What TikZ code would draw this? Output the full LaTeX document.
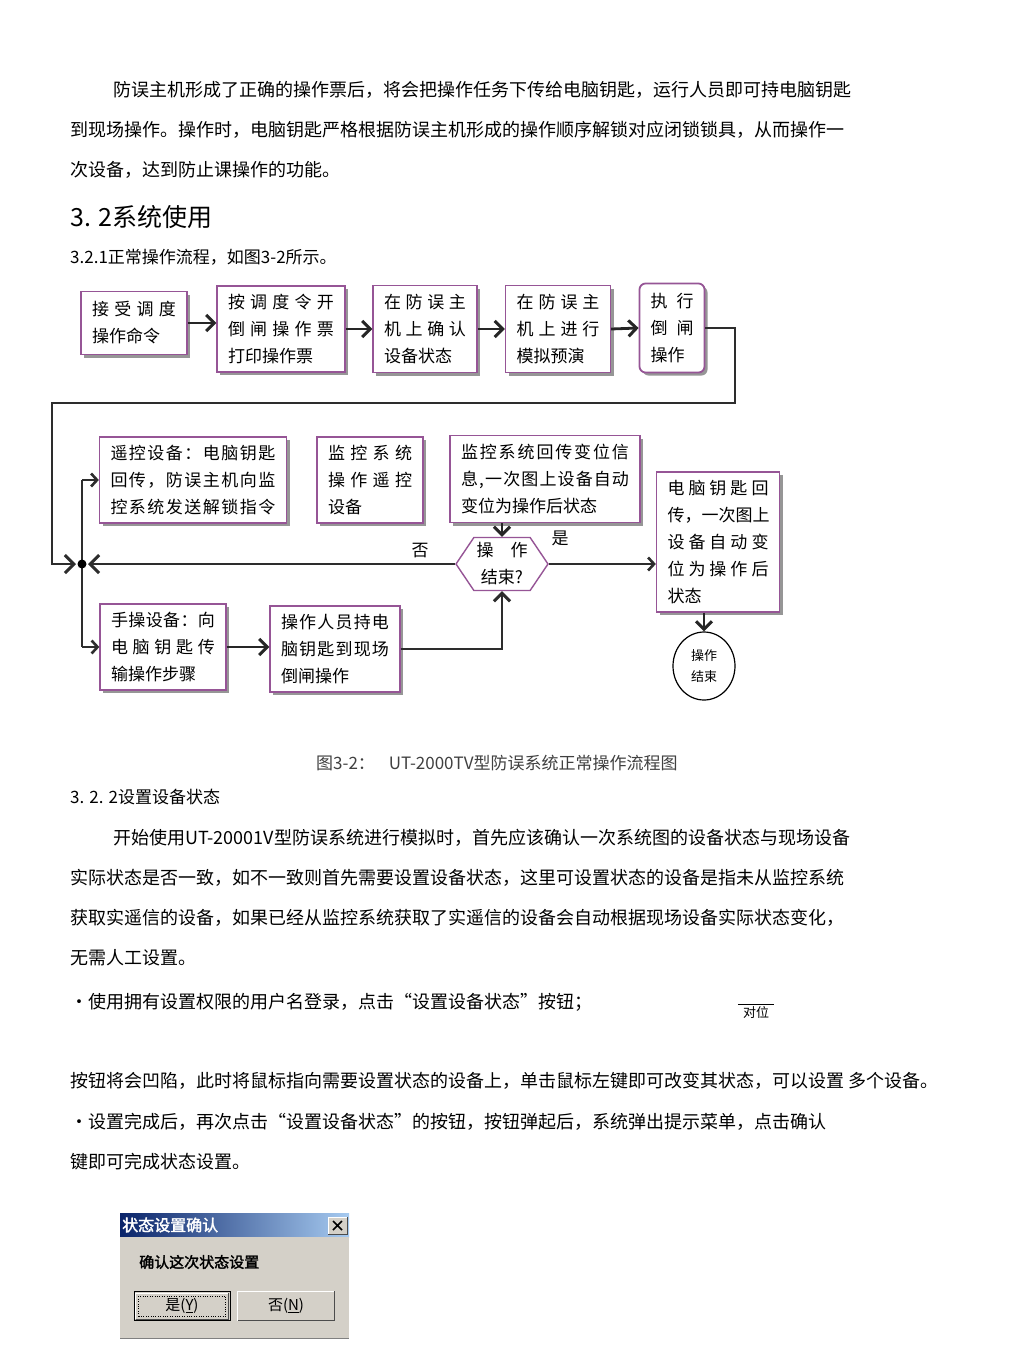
\documentclass[tikz,border=0pt]{standalone}
\usepackage{fontspec}
\setmainfont{Noto Sans CJK SC}[AutoFakeBold=2]
\usetikzlibrary{arrows.meta,shapes.geometric,shapes.symbols,shadows}

\definecolor{boxpurple}{RGB}{150,85,150}
\definecolor{shadowgray}{RGB}{150,150,150}
\definecolor{linegray}{RGB}{45,45,45}
\definecolor{wingray}{RGB}{212,208,200}
\definecolor{titledark}{RGB}{10,36,106}
\definecolor{titlelight}{RGB}{166,202,240}

\newcommand\spr[1]{\leavevmode\hbox to\hsize{\spaceskip=0pt plus 1fil\xspaceskip=0pt plus 1fil #1}}

\tikzset{
  stepbox/.style={draw=boxpurple, line width=1.3pt, fill=white, inner xsep=11pt, inner ysep=3pt,
    align=left, font=\fontsize{17}{27}\selectfont,
    drop shadow={shadow xshift=3pt, shadow yshift=-3pt, fill=shadowgray, opacity=1}},
  flow/.style={draw=black!85, line width=2.8pt, -{Straight Barb[length=8pt,width=16pt,line width=3pt]}},
  thinflow/.style={draw=linegray, line width=1.6pt, -{Straight Barb[length=6pt,width=13pt,line width=2.6pt]}},
  loopline/.style={draw=linegray, line width=2pt},
  bigtip/.style={-{Straight Barb[length=9pt,width=18pt,line width=3pt]}, shorten >=6pt},
  para/.style={anchor=west, inner sep=0pt, font=\fontsize{18}{18}\selectfont},
  lbl/.style={inner sep=1pt, font=\fontsize{17}{17}\selectfont},
  winbtn/.style={fill=wingray, minimum width=96pt, minimum height=29pt, inner sep=0pt,
    font=\fontsize{15}{15}\selectfont}
}

\begin{document}
\begin{tikzpicture}[x=1pt,y=-1pt]
\useasboundingbox[fill=white] (0,0) rectangle (1024,1363);

% text above the chart
\node[para] (p1) at (113,90) {防误主机形成了正确的操作票后，将会把操作任务下传给电脑钥匙，运行人员即可持电脑钥匙};
\node[para] (p2) at (70,130) {到现场操作。操作时，电脑钥匙严格根据防误主机形成的操作顺序解锁对应闭锁锁具，从而操作一};
\node[para] (p3) at (70,170) {次设备，达到防止课操作的功能。};
\node[para, font=\fontsize{25}{25}\selectfont] (h32) at (70,217) {3. 2系统使用};
\node[para, font=\fontsize{17}{17}\selectfont] (s321) at (70,257) {3.2.1正常操作流程，如图3-2所示。};

% flow chart, top row
\node[stepbox, text width=84pt, minimum height=63pt] (accept) at (134,323) {\spr{接 受 调 度}\\操作命令};
\node[stepbox, text width=106pt, minimum height=86pt] (ticket) at (281,329) {\spr{按 调 度 令 开}\\\spr{倒 闸 操 作 票}\\打印操作票};
\node[stepbox, text width=82pt, minimum height=87pt] (confirm) at (425,329) {\spr{在 防 误 主}\\\spr{机 上 确 认}\\设备状态};
\node[stepbox, text width=83pt, minimum height=87pt] (rehearse) at (558,329) {\spr{在 防 误 主}\\\spr{机 上 进 行}\\模拟预演};
\node[stepbox, rounded corners=6pt, line width=1.8pt, text width=43pt, minimum height=89pt] (execute) at (672,328) {\spr{执 行}\\\spr{倒 闸}\\操作};

\draw[flow] (accept.east) -- (accept.east -| ticket.west);
\draw[flow] (ticket.east) -- (confirm.west);
\draw[flow] (confirm.east) -- (rehearse.west);
\draw[flow] (rehearse.east) -- (execute.west);

% middle row
\node[stepbox, text width=165pt, minimum height=86pt] (remote) at (193,480) {\spr{遥 控 设 备 ： 电 脑 钥 匙}\\\spr{回 传 ， 防 误 主 机 向 监}\\\spr{控 系 统 发 送 解 锁 指 令}};
\node[stepbox, text width=84pt, minimum height=86pt] (telectl) at (370,480) {\spr{监 控 系 统}\\\spr{操 作 遥 控}\\设备};
\node[stepbox, text width=168pt, minimum height=87pt] (feedback) at (545,479) {\spr{监 控 系 统 回 传 变 位 信}\\\spr{息 , 一 次 图 上 设 备 自 动}\\变位为操作后状态};
\node[draw=boxpurple, line width=1.4pt, fill=white, shape=signal, signal to=west and east,
  signal pointer angle=112, minimum width=92pt, minimum height=53pt, inner sep=1pt,
  align=center, font=\fontsize{17}{27}\selectfont] (done) at (502,564) {操\quad 作\\结束?};
\node[stepbox, text width=101pt, minimum height=140pt] (keyret) at (718,542) {\spr{电 脑 钥 匙 回}\\\spr{传 ， 一 次 图 上}\\\spr{设 备 自 动 变}\\\spr{位 为 操 作 后}\\状态};
\node[draw, ellipse, line width=1.2pt, minimum width=62pt, minimum height=68pt, inner sep=0pt,
  align=center, font=\fontsize{13}{21}\selectfont] (endc) at (704,666) {操作\\结束};

% bottom row
\node[stepbox, text width=104pt, minimum height=86pt] (manual) at (163,647) {\spr{手 操 设 备 ： 向}\\\spr{电 脑 钥 匙 传}\\输操作步骤};
\node[stepbox, text width=108pt, minimum height=86pt] (carry) at (335,649) {\spr{操 作 人 员 持 电}\\\spr{脑 钥 匙 到 现 场}\\倒闸操作};

% loop back and junction
\coordinate (jn) at (82,564);
\coordinate (rt) at (735,403);
\coordinate (lt) at (52,564);
\draw[loopline, bigtip] (execute.east) -| (rt) -| (lt) -- (jn);
\draw[loopline, bigtip] (done.west) -- (jn);
\node[lbl] (no) at (420,551) {否};
\draw[loopline] (remote.west -| jn) -- (manual.west -| jn);
\draw[thinflow] (remote.west -| jn) -- (remote.west);
\draw[thinflow] (manual.west -| jn) -- (manual.west);
\fill (jn) circle (4.5pt);

\draw[flow] (done.north |- feedback.south) -- (done.north);
\draw[thinflow] (done.east) -- (done.east -| keyret.west);
\node[lbl] (yes) at (560,538) {是};
\draw[flow] (endc.north |- keyret.south) -- (endc.north);
\draw[flow] (manual.east) -- (manual.east -| carry.west);
\draw[loopline, -{Straight Barb[length=8pt,width=16pt,line width=3pt]}] (carry.east) -| (done.south);

% caption and text below
\node[para, font=\fontsize{17}{17}\selectfont, text=black!75] (cap) at (316,763) {图3-2：\hspace{14pt}UT-2000TV型防误系统正常操作流程图};
\node[para, font=\fontsize{17}{17}\selectfont] (s322) at (70,797) {3. 2. 2设置设备状态};
\node[para] (q1) at (113,838) {开始使用UT-20001V型防误系统进行模拟时，首先应该确认一次系统图的设备状态与现场设备};
\node[para] (q2) at (70,878) {实际状态是否一致，如不一致则首先需要设置设备状态，这里可设置状态的设备是指未从监控系统};
\node[para] (q3) at (70,918) {获取实遥信的设备，如果已经从监控系统获取了实遥信的设备会自动根据现场设备实际状态变化，};
\node[para] (q4) at (70,958) {无需人工设置。};
\node[para] (b1) at (70,1002) {・使用拥有设置权限的用户名登录，点击“设置设备状态”按钮；};
\node[inner xsep=5pt, inner ysep=1pt, font=\fontsize{13}{13}\selectfont] (dw) at (756,1012) {对位};
\draw[line width=0.7pt] (dw.north west) -- (dw.north east);
\node[para] (b2) at (70,1081) {按钮将会凹陷，此时将鼠标指向需要设置状态的设备上，单击鼠标左键即可改变其状态，可以设置 多个设备。};
\node[para] (b3) at (70,1122) {・设置完成后，再次点击“设置设备状态”的按钮，按钮弹起后，系统弹出提示菜单，点击确认};
\node[para] (b4) at (70,1162) {键即可完成状态设置。};

% dialog box
\shade[left color=titledark, right color=titlelight] (120,1213) rectangle (349,1237);
\fill[wingray] (120,1237) rectangle (349,1338);
\draw[gray] (120,1338) -- (349,1338);
\node[anchor=west, text=white, inner sep=1pt, font=\bfseries\fontsize{16}{16}\selectfont] (dtitle) at (121,1225) {状态设置确认};
\fill[wingray] (328,1217) rectangle (347,1234);
\draw[white] (328,1234) |- (347,1217);
\draw[gray!60!black] (328,1234) -| (347,1217);
\draw[line width=1.5pt] (333,1221) -- (342,1230) (333,1230) -- (342,1221);
\node[anchor=west, inner sep=1pt, font=\bfseries\fontsize{15}{15}\selectfont] (dmsg) at (138,1262) {确认这次状态设置};
\node[winbtn, draw=black, line width=1pt] (ok) at (182,1306) {是(\underline{Y})};
\draw[white] ([shift={(2,-2)}]ok.south west) |- ([shift={(-2,2)}]ok.north east);
\draw[gray!60!black] ([shift={(2,-2)}]ok.south west) -| ([shift={(-2,2)}]ok.north east);
\draw[dotted] ([shift={(5,-5)}]ok.south west) rectangle ([shift={(-5,5)}]ok.north east);
\node[winbtn] (cancel) at (286,1306) {否(\underline{N})};
\draw[white, line width=1pt] (cancel.south west) |- (cancel.north east);
\draw[gray!60!black, line width=1pt] (cancel.south west) -| (cancel.north east);
\end{tikzpicture}
\end{document}
